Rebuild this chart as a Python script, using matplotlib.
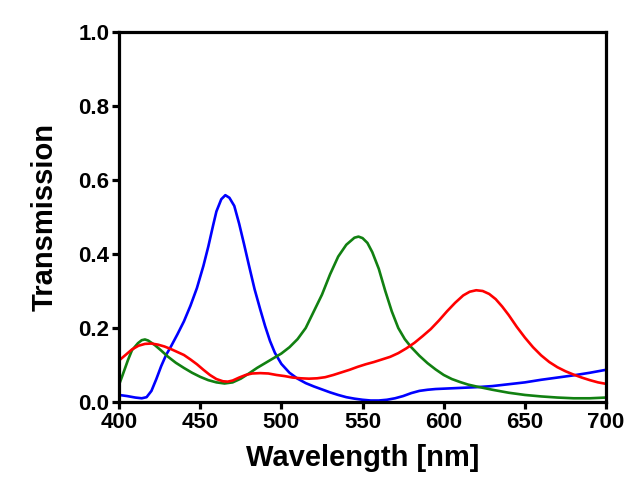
import matplotlib
matplotlib.use("Agg")
import matplotlib.pyplot as plt

# blue filter
blue_wl = [400, 405, 410, 414, 417, 420, 423, 426, 429, 432, 436, 440, 444, 448, 452, 455,
           458, 460, 463, 465.5, 468, 471, 474, 477, 480, 483.5, 487, 490, 493, 496, 500,
           505, 510, 515, 520, 525, 530, 535, 540, 545, 550, 555, 560, 565, 570, 575, 580,
           585, 590, 595, 600, 610, 620, 630, 640, 650, 660, 670, 680, 690, 700]
blue_t = [0.019, 0.016, 0.012, 0.010, 0.013, 0.030, 0.062, 0.097, 0.127, 0.150, 0.183, 0.218,
          0.260, 0.308, 0.368, 0.420, 0.478, 0.515, 0.548, 0.559, 0.552, 0.530, 0.482, 0.427,
          0.370, 0.305, 0.250, 0.205, 0.165, 0.133, 0.103, 0.079, 0.063, 0.051, 0.042, 0.034,
          0.026, 0.019, 0.013, 0.009, 0.006, 0.004, 0.004, 0.006, 0.010, 0.016, 0.024, 0.030,
          0.033, 0.035, 0.036, 0.038, 0.040, 0.043, 0.048, 0.053, 0.060, 0.066, 0.072, 0.079,
          0.087]

# green filter
green_wl = [400, 402, 405.5, 408, 411.7, 414, 416, 418, 422, 426, 430, 435, 440, 445, 450,
            455, 460, 465, 470, 475, 480, 485, 490, 495, 500, 505, 510, 515, 520, 525, 530,
            535, 540, 545, 547.5, 550, 553, 556, 560, 564, 568, 572, 576, 580, 585, 590, 595,
            600, 605, 610, 615, 620, 630, 640, 650, 660, 670, 680, 690, 700]
green_t = [0.046, 0.070, 0.113, 0.140, 0.159, 0.167, 0.169, 0.166, 0.154, 0.139, 0.123, 0.106,
           0.092, 0.079, 0.068, 0.059, 0.053, 0.050, 0.053, 0.063, 0.077, 0.092, 0.105, 0.118,
           0.131, 0.148, 0.170, 0.200, 0.245, 0.290, 0.345, 0.393, 0.425, 0.444, 0.447, 0.443,
           0.430, 0.405, 0.360, 0.300, 0.245, 0.200, 0.170, 0.148, 0.125, 0.105, 0.088, 0.073,
           0.062, 0.054, 0.047, 0.042, 0.033, 0.025, 0.019, 0.015, 0.012, 0.010, 0.010, 0.012]

# red filter
red_wl = [400, 404, 408, 412, 416, 420, 424, 428, 432, 436, 440, 444, 448, 452, 456, 460,
          464, 467, 470, 474, 478, 482, 487, 492, 497, 502, 507, 512, 517, 522, 527, 532,
          537, 542, 547, 552, 557, 562, 567, 572, 577, 582, 587, 592, 597, 602, 607, 612,
          616, 620, 624, 628, 632, 636, 640, 645, 650, 655, 660, 665, 670, 675, 680, 685,
          690, 695, 700]
red_t = [0.112, 0.127, 0.142, 0.152, 0.157, 0.158, 0.155, 0.150, 0.143, 0.135, 0.127, 0.115,
         0.102, 0.087, 0.073, 0.062, 0.056, 0.055, 0.058, 0.066, 0.073, 0.077, 0.078, 0.077,
         0.073, 0.070, 0.066, 0.064, 0.063, 0.064, 0.067, 0.073, 0.080, 0.087, 0.095, 0.102,
         0.108, 0.115, 0.122, 0.132, 0.145, 0.160, 0.178, 0.197, 0.220, 0.245, 0.268, 0.288,
         0.298, 0.302, 0.300, 0.292, 0.278, 0.258, 0.235, 0.203, 0.174, 0.148, 0.126, 0.108,
         0.094, 0.083, 0.074, 0.066, 0.059, 0.053, 0.049]

x_ticks = [400, 450, 500, 550, 600, 650, 700]
y_ticks = [0.0, 0.2, 0.4, 0.6, 0.8, 1.0]

plt.rcParams['font.family'] = ['Liberation Sans', 'DejaVu Sans']
plt.rcParams['font.weight'] = 'bold'

fig = plt.figure(figsize=(6.38, 4.91), dpi=100)
ax = fig.add_axes([0.1865, 0.1813, 0.7635, 0.7535])

ax.plot(blue_wl, blue_t, color='#0000ff', lw=1.9, solid_joinstyle='round')
ax.plot(green_wl, green_t, color='#118011', lw=1.9, solid_joinstyle='round')
ax.plot(red_wl, red_t, color='#ff0000', lw=1.9, solid_joinstyle='round')

ax.set_xlim(400, 700)
ax.set_ylim(0, 1.0)
ax.set_xticks(x_ticks)
ax.set_yticks(y_ticks)
ax.set_yticklabels(['%.1f' % v for v in y_ticks])

for s in ax.spines.values():
    s.set_linewidth(2.3)
ax.tick_params(direction='out', length=5, width=2.3, labelsize=16, pad=2)
for lab in ax.get_xticklabels() + ax.get_yticklabels():
    lab.set_fontweight('bold')

ax.set_xlabel('Wavelength [nm]', fontsize=21, fontweight='bold', labelpad=8)
ax.set_ylabel('Transmission', fontsize=21, fontweight='bold', labelpad=14)

fig.savefig('out.png', dpi=100)
